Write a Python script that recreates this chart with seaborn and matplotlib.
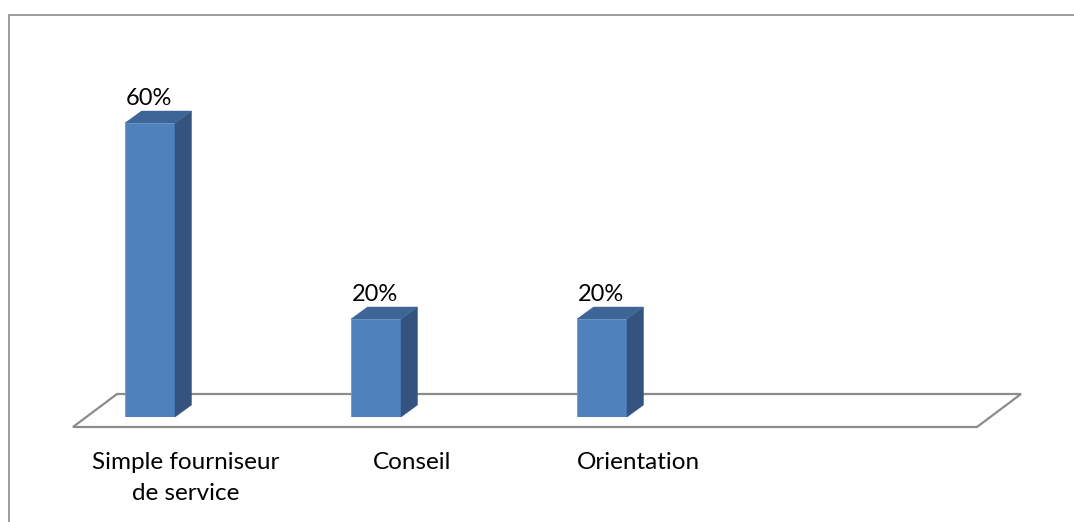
import numpy as np
import pandas as pd
import matplotlib
matplotlib.use("Agg")
import matplotlib.pyplot as plt
from matplotlib.patches import Polygon, Rectangle
from matplotlib.transforms import IdentityTransform
import seaborn as sns

# Data
categories = ["Simple fourniseur\nde service", "Conseil", "Orientation"]
values = [60, 20, 20]
value_labels = ["60%", "20%", "20%"]
n_slots = 4  # the category floor has room for a fourth, empty slot

sns.set_theme(style="white")
plt.rcParams["font.family"] = ["Lato", "DejaVu Sans"]

FRONT = "#4F81BD"
SIDE = "#34537F"
TOP = "#3D6696"
GRID = "#8C8C8C"

DPI = 100
fig = plt.figure(figsize=(10.74, 5.22), dpi=DPI)
fig.patch.set_facecolor("white")

ax = fig.add_axes([37 / 1074, 105 / 522, 904 / 1074, 402 / 522])

df = pd.DataFrame({"cat": categories, "val": values})
sns.barplot(data=df, x="cat", y="val", ax=ax, color=FRONT, saturation=1,
            width=50 / 226, zorder=3, edgecolor="#6F98CC", linewidth=0.6)
ax.set_xlim(-0.5, n_slots - 0.5)
ax.set_ylim(0, 60 * 402 / 294)
ax.axis("off")

# 3-D depth of the bars and of the floor, in pixels
bdx, bdy = 16.5, 12.0
fdx, fdy = 44.0, 33.0
f_shift_x, f_shift_y = 36.0, -10.0

# Floor parallelogram
x0, y0 = ax.transData.transform((-0.5, 0))
x1, _ = ax.transData.transform((n_slots - 0.5, 0))
fl = x0 + f_shift_x
fr = x1 + f_shift_x
fy = y0 + f_shift_y
floor = Polygon([(fl, fy), (fr, fy), (fr + fdx, fy + fdy), (fl + fdx, fy + fdy)],
                closed=True, transform=IdentityTransform(), facecolor="white",
                edgecolor=GRID, linewidth=1.6, zorder=1, clip_on=False)
ax.add_artist(floor)

# Side and top faces of each bar
for bar in list(ax.patches):
    if not isinstance(bar, Rectangle) or bar.get_height() <= 0:
        continue
    bx, bw, bh = bar.get_x(), bar.get_width(), bar.get_height()
    (lx, by) = ax.transData.transform((bx, 0))
    (rx, ty) = ax.transData.transform((bx + bw, bh))
    side = Polygon([(rx, by), (rx + bdx, by + bdy), (rx + bdx, ty + bdy), (rx, ty)],
                   closed=True, transform=IdentityTransform(),
                   facecolor=SIDE, edgecolor=SIDE, linewidth=0.3, zorder=3,
                   clip_on=False)
    top = Polygon([(lx, ty), (rx, ty), (rx + bdx, ty + bdy), (lx + bdx, ty + bdy)],
                  closed=True, transform=IdentityTransform(),
                  facecolor=TOP, edgecolor=TOP, linewidth=0.3, zorder=3,
                  clip_on=False)
    ax.add_artist(side)
    ax.add_artist(top)

# Value labels above the bars
for i, (v, lab) in enumerate(zip(values, value_labels)):
    ax.annotate(lab, xy=(i, v), xytext=(-1, 13), textcoords="offset points",
                ha="center", va="baseline", fontsize=17, color="black",
                annotation_clip=False, zorder=5)

# Category labels under the floor
for i, cat in enumerate(categories):
    ax.annotate(cat, xy=(i, 0), xytext=(36 * 72 / DPI, -25.5), textcoords="offset points",
                ha="center", va="top", fontsize=17.5, color="black",
                multialignment="center", linespacing=1.57, annotation_clip=False)

# Chart area border
fig.add_artist(Rectangle((9 / 1074, -0.2), 1.5, 0.2 + 507 / 522,
                         transform=fig.transFigure, fill=False,
                         edgecolor=GRID, linewidth=1.2))

fig.savefig("out.png", dpi=DPI, facecolor="white")
